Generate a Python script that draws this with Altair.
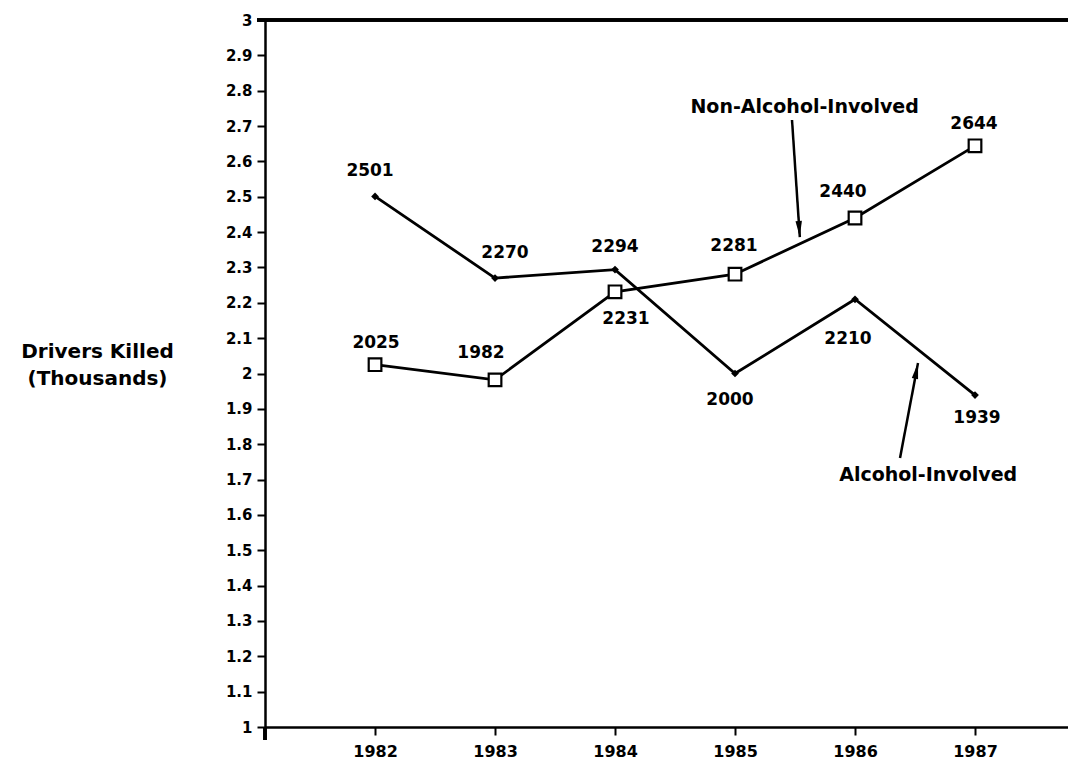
import altair as alt
import pandas as pd

# ---- data ----
years = [1982, 1983, 1984, 1985, 1986, 1987]
alcohol = [2501, 2270, 2294, 2000, 2210, 1939]
non_alcohol = [2025, 1982, 2231, 2281, 2440, 2644]
series_names = ["Alcohol-Involved", "Non-Alcohol-Involved"]
y_ticks = [round(1 + 0.1 * i, 1) for i in range(21)]
x_ticks = years

# label placement (pixel offsets of each value label from its point) - styling only
alc_label_dx = [-5, 10, 0, -5, -7, 2]
alc_label_dy = [-25, -25, -23, 26, 40, 23]
non_label_dx = [1, -14, 11, -1, -12, -1]
non_label_dy = [-22, -27, 27, -28, -26, -22]

# annotation text + arrows (data space: year, thousands)
ann_text = ["Non-Alcohol-Involved", "Alcohol-Involved"]
ann_x = [1985.58, 1986.61]
ann_y = [2.754, 1.713]
arrow_x = [1985.475, 1986.375]
arrow_y = [2.717, 1.761]
arrow_x2 = [1985.54, 1986.525]
arrow_y2 = [2.386, 2.03]
arrow_angle = [176, 11]

rows = []
for name, vals, dxs, dys in zip(series_names, [alcohol, non_alcohol],
                                [alc_label_dx, non_label_dx], [alc_label_dy, non_label_dy]):
    for yr, v, dx, dy in zip(years, vals, dxs, dys):
        rows.append({"year": yr, "killed": v / 1000.0, "label": str(v), "series": name,
                     "dx": dx, "dy": dy})
df = pd.DataFrame(rows)
ann = pd.DataFrame({"text": ann_text, "x": ann_x, "y": ann_y})
arrows = pd.DataFrame({"x": arrow_x, "y": arrow_y, "x2": arrow_x2, "y2": arrow_y2,
                       "angle": arrow_angle})

W, H = 803, 707
FONT = "DejaVu Sans"

xscale = alt.Scale(domain=[1981.083, 1987.775], nice=False, zero=False)
yscale = alt.Scale(domain=[1, 3], nice=False, zero=False)

x_axis = alt.Axis(values=x_ticks, format="d", title=None, grid=False,
                  tickSize=8, tickWidth=2, tickColor="black",
                  domainColor="black", domainWidth=2.5, labelOverlap=False,
                  labelFont=FONT, labelFontSize=16, labelFontWeight="bold",
                  labelColor="black", labelPadding=8)
y_axis = alt.Axis(values=y_ticks, labelExpr="format(datum.value, '~g')",
                  labelOverlap=False,
                  title=["Drivers Killed", "(Thousands)"], titleAngle=0,
                  titleAlign="center", titleBaseline="middle",
                  titleX=-168, titleY=331, titleFont=FONT, titleFontSize=20,
                  titleFontWeight="bold", titleColor="black", titleLineHeight=27,
                  grid=False, tickSize=8, tickWidth=2, tickColor="black",
                  domainColor="black", domainWidth=2.5,
                  labelFont=FONT, labelFontSize=15, labelFontWeight="bold",
                  labelColor="black", labelPadding=5)


def X(field):
    return alt.X(field, type="quantitative", scale=xscale, axis=x_axis)


def Y(field):
    return alt.Y(field, type="quantitative", scale=yscale, axis=y_axis)


base = alt.Chart(df).encode(x=X("year"), y=Y("killed"))

lines = base.mark_line(color="black", strokeWidth=2.8).encode(detail="series:N")
alc_pts = base.transform_filter(alt.datum.series == "Alcohol-Involved").mark_point(
    shape="diamond", filled=True, color="black", size=60, opacity=1)
non_pts = base.transform_filter(alt.datum.series == "Non-Alcohol-Involved").mark_point(
    shape="square", filled=True, fill="white", stroke="black", strokeWidth=2.2,
    size=160, opacity=1)
labels = base.mark_text(
    dx=alt.ExprRef(expr="datum.dx"), dy=alt.ExprRef(expr="datum.dy"),
    font=FONT, fontSize=17, fontWeight="bold", color="black",
    baseline="middle").encode(text="label:N")

ann_txt = alt.Chart(ann).mark_text(font=FONT, fontSize=19, fontWeight="bold",
                                   color="black", baseline="middle").encode(
    x=X("x"), y=Y("y"), text="text:N")
arrow_shafts = alt.Chart(arrows).mark_rule(color="black", strokeWidth=2.5).encode(
    x=X("x"), y=Y("y"), x2="x2:Q", y2="y2:Q")
arrow_heads = alt.Chart(arrows).mark_point(
    shape="M0,0 L0.32,1.6 L-0.32,1.6 Z", filled=True, color="black",
    size=400, opacity=1).encode(
    x=X("x2"), y=Y("y2"), angle=alt.Angle("angle:Q", scale=None))

top_frame = alt.Chart(df).mark_rule(color="black", strokeWidth=2.5).encode(
    x=alt.value(-8), x2=alt.value(W), y=alt.value(0))
y_ext = alt.Chart(df).mark_rule(color="black", strokeWidth=2.5).encode(
    x=alt.value(0), y=alt.value(H), y2=alt.value(H + 13))

chart = alt.layer(lines, alc_pts, non_pts, labels,
                  arrow_shafts, arrow_heads, ann_txt, top_frame, y_ext).properties(
    width=W, height=H, autosize="none",
    padding={"left": 257, "top": 12, "right": 0, "bottom": 52},
    background="white",
).configure_view(stroke=None)

chart.save("out.html", embed_options={"renderer": "svg", "actions": False})
